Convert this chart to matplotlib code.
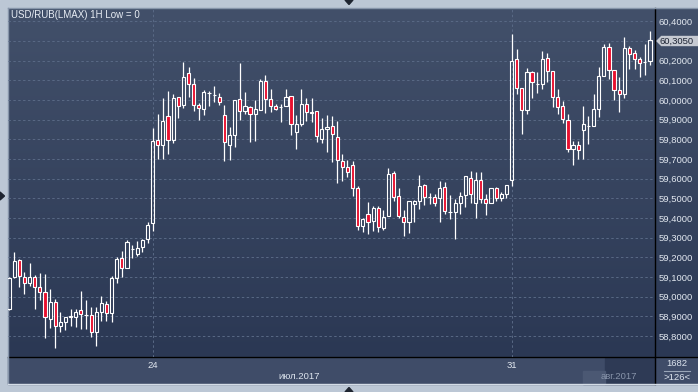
import numpy as np
import matplotlib
matplotlib.use("Agg")
import matplotlib.pyplot as plt

plt.rcParams['font.family'] = ['Liberation Sans', 'DejaVu Sans']

# USD/RUB 1H candles (index 0 = first visible bar)
opens = [58.935, 59.098, 59.186, 59.102, 59.068, 59.098, 59.049, 59.024, 58.885, 58.973,
         58.849, 58.873, 58.898, 58.895, 58.930, 58.908, 58.905, 58.818, 58.920, 58.961,
         58.915, 59.096, 59.195, 59.144, 59.242, 59.217, 59.251, 59.291, 59.373, 59.797,
         59.773, 59.917, 59.795, 60.014, 59.973, 60.136, 60.080, 59.973, 59.956, 60.036,
         60.024, 60.014, 59.924, 59.773, 59.820, 60.004, 59.946, 59.963, 59.931, 59.951,
         60.097, 60.004, 59.968, 59.967, 59.968, 60.019, 59.836, 59.876, 59.980, 59.937,
         59.942, 59.800, 59.851, 59.866, 59.810, 59.690, 59.659, 59.668, 59.551, 59.361,
         59.419, 59.386, 59.449, 59.347, 59.408, 59.627, 59.510, 59.403, 59.381, 59.469,
         59.485, 59.566, 59.509, 59.508, 59.502, 59.556, 59.432, 59.432, 59.475, 59.515,
         59.605, 59.478, 59.592, 59.497, 59.475, 59.551, 59.502, 59.520, 59.593, 60.207,
         60.060, 59.948, 60.141, 60.080, 60.080, 60.212, 60.146, 60.014, 59.970, 59.897,
         59.749, 59.770, 59.849, 59.866, 59.866, 59.953, 60.122, 60.271, 60.151, 60.049,
         60.029, 60.263, 60.238, 60.207, 60.192, 60.199]
highs = [59.100, 59.227, 59.190, 59.124, 59.169, 59.110, 59.119, 59.115, 59.037, 58.988,
         58.922, 58.895, 58.935, 58.935, 59.029, 58.983, 58.949, 58.949, 59.005, 58.979,
         59.107, 59.200, 59.232, 59.290, 59.264, 59.283, 59.291, 59.378, 59.856, 59.929,
         60.009, 60.044, 60.031, 60.014, 60.193, 60.166, 60.114, 59.985, 60.051, 60.048,
         60.071, 60.034, 59.975, 59.863, 59.998, 60.187, 60.039, 59.971, 59.998, 60.107,
         60.127, 60.056, 59.978, 59.978, 60.056, 60.019, 59.924, 60.056, 60.010, 60.010,
         59.942, 59.907, 59.924, 59.917, 59.893, 59.724, 59.695, 59.690, 59.561, 59.402,
         59.480, 59.459, 59.463, 59.439, 59.653, 59.639, 59.553, 59.439, 59.485, 59.493,
         59.617, 59.573, 59.529, 59.522, 59.588, 59.585, 59.517, 59.497, 59.534, 59.612,
         59.641, 59.632, 59.632, 59.522, 59.553, 59.556, 59.534, 59.566, 60.336, 60.260,
         60.060, 60.165, 60.148, 60.144, 60.249, 60.238, 60.146, 60.054, 59.993, 59.927,
         59.790, 59.790, 59.970, 59.917, 60.029, 60.168, 60.285, 60.290, 60.151, 60.117,
         60.319, 60.275, 60.253, 60.217, 60.285, 60.353]
lows = [58.930, 59.095, 59.051, 59.013, 59.054, 58.939, 58.983, 58.788, 58.842, 58.737,
        58.822, 58.830, 58.851, 58.847, 58.837, 58.837, 58.796, 58.751, 58.878, 58.878,
        58.873, 59.068, 59.102, 59.144, 59.198, 59.208, 59.229, 59.274, 59.336, 59.698,
        59.698, 59.726, 59.780, 59.909, 59.961, 60.014, 59.946, 59.898, 59.924, 59.971,
        59.990, 59.975, 59.692, 59.697, 59.763, 59.898, 59.929, 59.788, 59.793, 59.951,
        59.932, 59.941, 59.948, 59.890, 59.968, 59.824, 59.753, 59.870, 59.893, 59.890,
        59.785, 59.783, 59.737, 59.683, 59.580, 59.590, 59.607, 59.514, 59.341, 59.327,
        59.320, 59.334, 59.330, 59.339, 59.408, 59.488, 59.398, 59.307, 59.322, 59.378,
        59.446, 59.466, 59.471, 59.461, 59.378, 59.419, 59.393, 59.291, 59.420, 59.454,
        59.475, 59.398, 59.478, 59.417, 59.475, 59.486, 59.488, 59.503, 59.564, 60.032,
        59.829, 59.927, 60.012, 60.036, 60.058, 60.093, 59.965, 59.931, 59.882, 59.737,
        59.671, 59.698, 59.698, 59.778, 59.866, 59.915, 60.122, 60.109, 59.998, 59.941,
        60.010, 60.158, 60.158, 60.119, 60.129, 60.180]
closes = [59.096, 59.180, 59.107, 59.068, 59.098, 59.051, 59.022, 58.898, 58.974, 58.849,
          58.869, 58.895, 58.900, 58.922, 58.910, 58.906, 58.818, 58.920, 58.968, 58.915,
          59.096, 59.190, 59.144, 59.276, 59.243, 59.246, 59.286, 59.364, 59.792, 59.770,
          59.892, 59.795, 60.009, 59.971, 60.115, 60.082, 59.973, 59.958, 60.039, 60.037,
          60.025, 59.992, 59.785, 59.820, 59.998, 59.946, 59.968, 59.927, 59.953, 60.097,
          60.004, 59.968, 59.956, 59.966, 60.014, 59.876, 59.876, 59.978, 59.937, 59.936,
          59.815, 59.851, 59.861, 59.826, 59.693, 59.658, 59.636, 59.551, 59.358, 59.393,
          59.381, 59.449, 59.356, 59.403, 59.622, 59.505, 59.408, 59.381, 59.485, 59.485,
          59.563, 59.507, 59.508, 59.475, 59.551, 59.436, 59.433, 59.475, 59.514, 59.612,
          59.522, 59.592, 59.497, 59.475, 59.551, 59.502, 59.520, 59.566, 60.200, 60.060,
          59.948, 60.141, 60.090, 60.079, 60.207, 60.146, 60.014, 59.965, 59.902, 59.749,
          59.770, 59.744, 59.876, 59.867, 59.953, 60.122, 60.268, 60.151, 60.049, 60.029,
          60.263, 60.232, 60.207, 60.187, 60.191, 60.305]

price_ticks = [58.8, 58.9, 59.0, 59.1, 59.2, 59.3, 59.4, 59.5, 59.6, 59.7,
               59.8, 59.9, 60.0, 60.1, 60.2, 60.3, 60.4]
day_ticks = [28, 98]
day_labels = ['24', '31']
last_price = 60.3050

W, H = 698, 392
fig = plt.figure(figsize=(W / 100, H / 100), dpi=100)

# background in pixel coordinates
bg = fig.add_axes([0, 0, 1, 1])
bg.set_xlim(0, W)
bg.set_ylim(H, 0)
bg.axis('off')
bg.add_patch(plt.Rectangle((0, 0), W, H, color='#bcc7d5'))
top = np.array([66, 80, 106]) / 255
bot = np.array([43, 56, 84]) / 255
t = np.linspace(0, 1, 200)[:, None, None]
grad = top * (1 - t) + bot * t
bg.imshow(grad, extent=(8, W, 357, 8), aspect='auto', zorder=1)
bg.add_patch(plt.Rectangle((8, 357), W - 8, 26.5, color='#3f4c68', zorder=1))
bg.add_patch(plt.Rectangle((605, 358), 50, 25.5, color='#2e3a55', zorder=2))
bg.add_patch(plt.Rectangle((583, 371), 22, 12.5, color='#4b5873', zorder=2))
bg.plot([8, W], [357, 357], color='black', lw=1, zorder=3)
bg.plot([655, 655], [8, 383.5], color='black', lw=1, zorder=3)
bg.plot([7.5, 7.5], [7.5, 384], color='#8795aa', lw=1, zorder=3)
bg.plot([7.5, W], [7.5, 7.5], color='#8795aa', lw=1, zorder=3)
bg.plot([7.5, W], [384, 384], color='#d4dce6', lw=1, zorder=3)
bg.fill([345, 353, 349], [0, 0, 4.5], color='#1e2430', zorder=3)
bg.fill([345, 353, 349], [392, 392, 387.5], color='#1e2430', zorder=3)
bg.fill([0, 0, 4.5], [192, 200, 196], color='#1e2430', zorder=3)

# last price marker
bg.fill([657, 661.5, W, W, 661.5], [41, 36.5, 36.5, 45.5, 45.5], color='#c6cad2', zorder=4)
bg.text(660, 41.2, f"{last_price:.4f}".replace('.', ','), fontsize=6.8, color='#1c2333',
        va='center', ha='left', zorder=5)

# bottom panel texts
bg.text(299, 376.5, 'июл.2017', fontsize=6.8, color='#dde4ee', ha='center', va='center', zorder=5)
bg.text(619, 376.5, 'авг.2017', fontsize=6.8, color='#8894aa', ha='center', va='center', zorder=5)
bg.text(677, 364, '1682', fontsize=6.8, color='#dde4ee', ha='center', va='center', zorder=5)
bg.text(677, 377.5, '>126<', fontsize=6.8, color='#dde4ee', ha='center', va='center', zorder=5)
bg.plot([664, 690], [371, 371], color='#9aa6b8', lw=0.8, zorder=5)

# candle axes
ax = fig.add_axes([8 / W, 1 - 357 / H, (655 - 8) / W, (357 - 8) / H])
ax.set_facecolor('none')
ax.set_xlim(-0.21, 125.98)
ax.set_ylim(58.693, 60.468)
for s in ax.spines.values():
    s.set_visible(False)

o = np.array(opens)
c = np.array(closes)
hi = np.array(highs)
lo = np.array(lows)
x = np.arange(len(o))
body_lo = np.minimum(o, c)
body_hi = np.maximum(o, c)
down = c < o

ax.vlines(x, body_hi, hi, color='white', lw=0.9, zorder=3)
ax.vlines(x, lo, body_lo, color='white', lw=0.9, zorder=3)
face = ['#e8102f' if d else 'none' for d in down]
ax.bar(x, body_hi - body_lo, bottom=body_lo, width=0.62, color=face,
       edgecolor='white', linewidth=0.8, zorder=4)

ax.yaxis.tick_right()
ax.set_yticks(price_ticks)
ax.set_yticklabels(['' if abs(v - 60.3) < 1e-6 else f"{v:.4f}".replace('.', ',')
                    for v in price_ticks])
ax.set_xticks(day_ticks)
ax.set_xticklabels(day_labels)
ax.tick_params(axis='y', length=0, pad=2.3, labelsize=6.8, labelcolor='#e2e8f0')
ax.tick_params(axis='x', length=0, pad=3.0, labelsize=6.8, labelcolor='#e2e8f0')
ax.grid(True, color='#596985', lw=0.7, linestyle=(0, (2.5, 2.5)), zorder=0)
ax.set_axisbelow(True)

fig.text(11 / W, 1 - 15.5 / H, 'USD/RUB(LMAX) 1H Low = 0', fontsize=7, color='#e8edf4',
         ha='left', va='center')

fig.savefig('out.png', dpi=100)
